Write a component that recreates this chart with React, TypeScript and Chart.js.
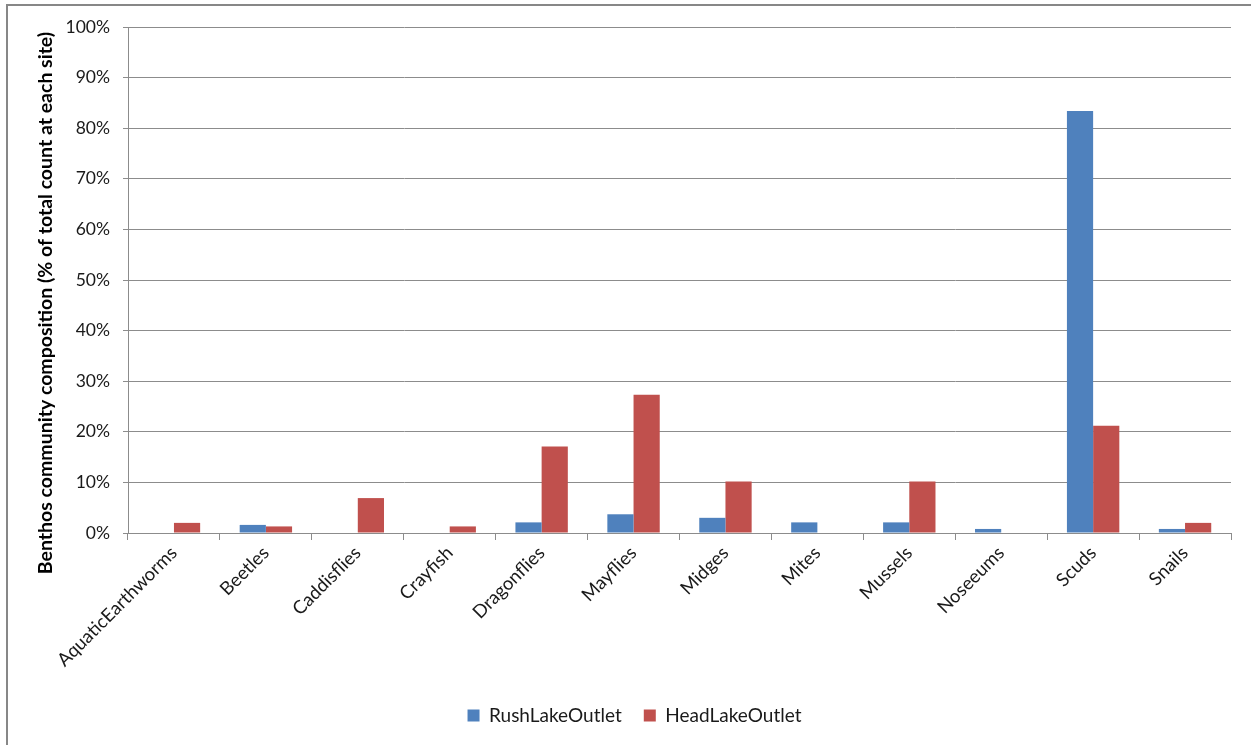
import React, { useEffect, useRef } from "react";
import { Chart, registerables } from "chart.js";

Chart.register(...registerables);

const categories = [
  "AquaticEarthworms",
  "Beetles",
  "Caddisflies",
  "Crayfish",
  "Dragonflies",
  "Mayflies",
  "Midges",
  "Mites",
  "Mussels",
  "Noseeums",
  "Scuds",
  "Snails",
];

const rushLakeOutlet = [0, 1.6, 0, 0, 2.1, 3.7, 3.0, 2.1, 2.1, 0.8, 83.4, 0.8];
const headLakeOutlet = [2.0, 1.3, 6.9, 1.3, 17.1, 27.3, 10.2, 0, 10.2, 0, 21.2, 2.0];

const seriesNames = ["RushLakeOutlet", "HeadLakeOutlet"];
const yTitle = "Benthos community composition (% of total count at each site)";

const FONT = "Lato, 'Liberation Sans', sans-serif";

const yTitlePlugin = {
  id: "yTitlePlugin",
  afterDraw(chart: any) {
    const ctx = chart.ctx;
    ctx.save();
    ctx.translate(46, 303);
    ctx.rotate(-Math.PI / 2);
    ctx.font = `bold 19.5px ${FONT}`;
    ctx.fillStyle = "#000";
    ctx.textAlign = "center";
    ctx.textBaseline = "middle";
    ctx.fillText(yTitle, 0, 0);
    ctx.restore();
  },
};

export default function App() {
  const canvasRef = useRef<HTMLCanvasElement | null>(null);

  useEffect(() => {
    const canvas = canvasRef.current;
    if (!canvas) return;
    const chart = new Chart(canvas, {
      type: "bar",
      data: {
        labels: categories,
        datasets: [
          {
            label: seriesNames[0],
            data: rushLakeOutlet,
            backgroundColor: "#4F81BD",
            categoryPercentage: 0.57,
            barPercentage: 1,
          },
          {
            label: seriesNames[1],
            data: headLakeOutlet,
            backgroundColor: "#C0504D",
            categoryPercentage: 0.57,
            barPercentage: 1,
          },
        ],
      },
      plugins: [yTitlePlugin],
      options: {
        responsive: false,
        animation: false,
        layout: { padding: { left: 38, right: 20, top: 27, bottom: 10 } },
        plugins: {
          tooltip: { enabled: false },
          legend: {
            position: "bottom",
            labels: {
              boxWidth: 12,
              boxHeight: 12,
              padding: 22,
              color: "#1a1a1a",
              font: { family: FONT, size: 19 },
            },
          },
        },
        scales: {
          x: {
            grid: {
              display: true,
              drawOnChartArea: false,
              drawTicks: true,
              tickLength: 7,
              color: "#8c8c8c",
            },
            border: { display: true, color: "#8c8c8c", width: 1 },
            ticks: {
              minRotation: 45,
              maxRotation: 45,
              autoSkip: false,
              padding: 2,
              color: "#1a1a1a",
              font: { family: FONT, size: 18.5 },
            },
            afterFit: (scale: any) => {
              scale.height = 151;
            },
          },
          y: {
            min: 0,
            max: 100,
            ticks: {
              stepSize: 10,
              padding: 13,
              color: "#1a1a1a",
              font: { family: FONT, size: 17.5 },
              callback: (v: any) => v + "%",
            },
            grid: {
              color: "#8c8c8c",
              tickLength: 5,
              drawTicks: true,
            },
            border: { display: true, color: "#8c8c8c", width: 1 },
            afterFit: (scale: any) => {
              scale.width = 90;
            },
          },
        },
      },
    });
    return () => chart.destroy();
  }, []);

  return (
    <div>
      <div
        style={{
          position: "fixed",
          left: 6,
          top: 4,
          width: 1300,
          height: 800,
          border: "2px solid #878787",
          boxSizing: "border-box",
          background: "#fff",
        }}
      />
      <canvas
        ref={canvasRef}
        width={1251}
        height={745}
        style={{ position: "fixed", left: 0, top: 0, width: 1251, height: 745 }}
      />
    </div>
  );
}
